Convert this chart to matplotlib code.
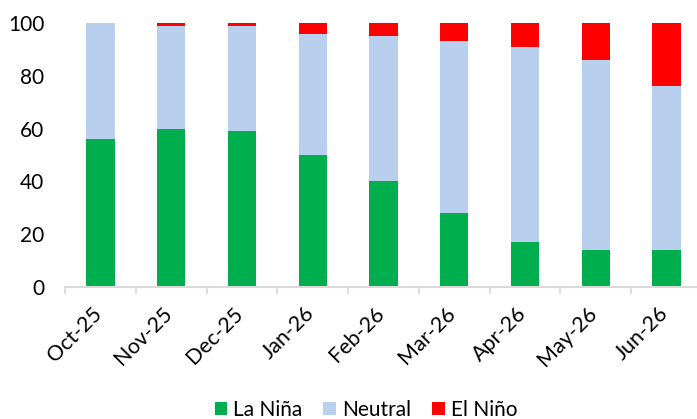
import numpy as np
import matplotlib.pyplot as plt
from matplotlib.transforms import ScaledTranslation

months = ['Oct-25', 'Nov-25', 'Dec-25', 'Jan-26', 'Feb-26', 'Mar-26', 'Apr-26', 'May-26', 'Jun-26']
la_nina = [56, 60, 59, 50, 40, 28, 17, 14, 14]
neutral = [44, 39, 40, 46, 55, 65, 74, 72, 62]
el_nino = [0, 1, 1, 4, 5, 7, 9, 14, 24]

plt.rcParams['font.family'] = ['Lato', 'DejaVu Sans']

fig = plt.figure(figsize=(6.97, 4.19), dpi=100)
ax = fig.add_axes([65 / 697, 132 / 419, 637 / 697, 264 / 419])

x = np.arange(len(months))
w = 0.4
b1 = np.array(la_nina)
b2 = b1 + np.array(neutral)
ax.bar(x, la_nina, w, color='#00AE4E', label='La Niña')
ax.bar(x, neutral, w, bottom=b1, color='#B8CFED', label='Neutral')
ax.bar(x, el_nino, w, bottom=b2, color='#FF0000', label='El Niño')

ax.set_xlim(-0.5, len(months) - 0.5)
ax.set_ylim(0, 100)
ax.set_yticks(range(0, 101, 20))
ax.tick_params(axis='y', length=0, pad=15, labelsize=15)

# category ticks sit on the boundaries, labels on the bars
ax.set_xticks(np.arange(-0.5, len(months), 1))
ax.set_xticklabels([])
ax.tick_params(axis='x', which='major', length=5, width=1.2, color='#d9d9d9', direction='out')
ax.set_xticks(x, minor=True)
ax.set_xticklabels(months, minor=True, rotation=45, ha='right', va='top',
                   rotation_mode='anchor', fontsize=15.5)
ax.tick_params(axis='x', which='minor', length=0, pad=11)
shift = ScaledTranslation(-9 / 100, -1 / 100, fig.dpi_scale_trans)
for lbl in ax.get_xticklabels(minor=True):
    lbl.set_transform(lbl.get_transform() + shift)

for s in ['top', 'right', 'left']:
    ax.spines[s].set_visible(False)
ax.spines['bottom'].set_color('#d9d9d9')
ax.spines['bottom'].set_linewidth(1.5)

fig.legend(loc='center', bbox_to_anchor=(366 / 697, 9 / 419), ncol=3, frameon=False,
           fontsize=15, handlelength=0.6, handleheight=0.6, handletextpad=0.3,
           columnspacing=1.0, borderpad=0)

fig.savefig('out.png', dpi=100)
